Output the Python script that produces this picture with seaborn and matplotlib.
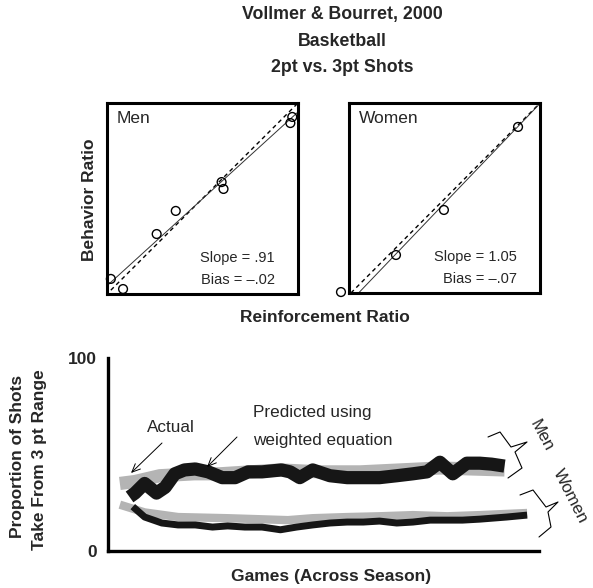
import matplotlib
matplotlib.use("Agg")
import matplotlib.pyplot as plt
import seaborn as sns
from matplotlib.lines import Line2D
from matplotlib import font_manager

W, H = 593, 588

# top panels (ratios scaled to the panel box, 0-1)
men_reinf = [0.02, 0.084, 0.26, 0.36, 0.60, 0.61, 0.97, 0.96]
men_behav = [0.079, 0.026, 0.314, 0.435, 0.586, 0.55, 0.927, 0.895]
men_fit_x = [0.0, 1.0]
men_fit_y = [0.043, 0.953]
men_unity_x = [0.02, 1.0]
men_unity_y = [0.02, 1.0]

women_reinf = [-0.042, 0.246, 0.497, 0.885]
women_behav = [0.005, 0.20, 0.437, 0.874]
women_fit_x = [0.05, 1.0]
women_fit_y = [0.0, 0.9975]
women_unity_x = [0.01, 1.0]
women_unity_y = [0.0, 1.0]

# bottom panel: proportion of shots from 3 pt range across the season
men_pred_games = [1.1, 2.5, 4.8, 8.0, 10.4, 16.0, 19.7, 23.4, 27.1, 30.8, 36.8]
men_pred = [35, 36, 39, 40, 40, 42, 41, 41, 42, 43, 42]
men_act_games = [2.0, 2.5, 3.4, 4.5, 5.3, 6.2, 7.1, 8.1, 9.3, 10.6, 11.8, 13.0, 14.3, 16.1, 16.9,
                 17.8, 19.0, 20.6, 22.2, 23.7, 25.2, 26.8, 28.3, 29.6, 30.8, 32.0, 33.3, 34.5,
                 35.6, 36.8]
men_act = [28, 30, 35, 30, 33, 40, 42, 42.5, 41, 38, 38, 41, 41, 42, 41, 38, 42, 39, 38, 38, 38,
           39, 40, 41, 46, 40, 45.5, 45.5, 45, 44]
women_pred_games = [1.1, 3.4, 6.5, 11.1, 16.7, 19.0, 22.2, 25.2, 28.3, 31.5, 34.5, 38.9]
women_pred = [24, 20, 17.6, 17, 16, 17, 17.6, 18, 18.6, 18, 18.6, 19.7]
women_act_games = [2.3, 3.4, 5.0, 6.5, 8.1, 9.7, 11.1, 12.7, 14.3, 16.0, 17.5, 19.0, 20.6, 22.2,
                   23.7, 25.2, 26.8, 28.3, 29.9, 31.5, 32.9, 34.5, 37.0, 38.9]
women_act = [23, 17.6, 14.5, 13.5, 13.5, 12.4, 13, 12.4, 12.4, 11, 12.4, 13.5, 14.5, 15, 15, 15.5,
             14.5, 15, 16, 16, 16, 16.5, 17.6, 18.6]

GRAY = "#b4b4b4"
DARK = "#161616"

sns.set_theme(style="white")
plt.rcParams["font.family"] = ["Liberation Sans", "DejaVu Sans"]

# a condensed face for the slope/bias notes, if there is one
names = {f.name for f in font_manager.fontManager.ttflist}
if "Liberation Sans Narrow" in names:
    NOTE_FONT, NOTE_SIZE = ["Liberation Sans Narrow", "DejaVu Sans"], 12
else:
    NOTE_FONT, NOTE_SIZE = ["Liberation Sans", "DejaVu Sans"], 10.5


def rect(l, t, r, b):
    return [l / W, 1 - b / H, (r - l) / W, (b - t) / H]


def fxy(x, y):
    return (x / W, 1 - y / H)


fig = plt.figure(figsize=(W / 100, H / 100), dpi=100)

# title
for txt, y in [("Vollmer & Bourret, 2000", 15), ("Basketball", 42), ("2pt vs. 3pt Shots", 68)]:
    fig.text(*fxy(342, y), txt, ha="center", va="center", fontsize=12.8, fontweight="bold")

panels = [
    ("Men", rect(107, 103, 298, 294), men_reinf, men_behav, men_fit_x, men_fit_y,
     men_unity_x, men_unity_y, "Slope = .91", "Bias = \u2013.02"),
    ("Women", rect(349, 103, 540, 293), women_reinf, women_behav, women_fit_x, women_fit_y,
     women_unity_x, women_unity_y, "Slope = 1.05", "Bias = \u2013.07"),
]
for name, r, rx, by, fx, fy, ux, uy, slope, bias in panels:
    ax = fig.add_axes(r)
    sns.lineplot(x=ux, y=uy, ax=ax, color="black", linewidth=1.0,
                 linestyle=(0, (3, 2.5)), sort=False, estimator=None)
    sns.lineplot(x=fx, y=fy, ax=ax, color="#333333", linewidth=0.7, sort=False, estimator=None)
    sns.scatterplot(x=rx, y=by, ax=ax, s=40, facecolors="none", edgecolor="black",
                    linewidth=1.0, clip_on=False, zorder=5)
    ax.set_xlim(0, 1)
    ax.set_ylim(0, 1)
    ax.set_xticks([])
    ax.set_yticks([])
    for sp in ax.spines.values():
        sp.set_visible(True)
        sp.set_color("black")
        sp.set_linewidth(2.2)
    ax.text(0.05, 0.92, name, transform=ax.transAxes, fontsize=12.5, ha="left", va="center")
    ax.text(0.88, 0.19, slope, transform=ax.transAxes, fontsize=NOTE_SIZE, family=NOTE_FONT,
            ha="right", va="center")
    ax.text(0.88, 0.075, bias, transform=ax.transAxes, fontsize=NOTE_SIZE, family=NOTE_FONT,
            ha="right", va="center")

fig.text(*fxy(90, 200), "Behavior Ratio", rotation=90, ha="center", va="center",
         fontsize=12.5, fontweight="bold")
fig.text(*fxy(325, 318), "Reinforcement Ratio", ha="center", va="center",
         fontsize=12.5, fontweight="bold")

# bottom panel
ax2 = fig.add_axes(rect(108, 358, 539, 551))
sns.lineplot(x=men_pred_games, y=men_pred, ax=ax2, color=GRAY, linewidth=9.5, sort=False,
             estimator=None, solid_capstyle="butt", solid_joinstyle="round")
sns.lineplot(x=women_pred_games, y=women_pred, ax=ax2, color=GRAY, linewidth=6, sort=False,
             estimator=None, solid_capstyle="butt", solid_joinstyle="round")
sns.lineplot(x=men_act_games, y=men_act, ax=ax2, color=DARK, linewidth=9.5, sort=False,
             estimator=None, solid_capstyle="butt", solid_joinstyle="round")
sns.lineplot(x=women_act_games, y=women_act, ax=ax2, color=DARK, linewidth=5, sort=False,
             estimator=None, solid_capstyle="butt", solid_joinstyle="round")
ax2.set_xlim(0, 40)
ax2.set_ylim(0, 100)
ax2.set_xticks([])
ax2.set_yticks([0, 100])
ax2.set_yticklabels(["0", "100"], fontsize=12.5, fontweight="bold")
ax2.tick_params(axis="y", length=0, pad=8)
sns.despine(ax=ax2)
for side in ["left", "bottom"]:
    ax2.spines[side].set_color("black")
    ax2.spines[side].set_linewidth(2.4)
ax2.set_xlabel("")
ax2.set_ylabel("")

fig.text(*fxy(18, 456), "Proportion of Shots", rotation=90, ha="center", va="center",
         fontsize=12.5, fontweight="bold")
fig.text(*fxy(40, 460), "Take From 3 pt Range", rotation=90, ha="center", va="center",
         fontsize=12.5, fontweight="bold")
fig.text(*fxy(331, 577), "Games (Across Season)", ha="center", va="center",
         fontsize=12.5, fontweight="bold")

# annotations
arrow = dict(arrowstyle="->,head_length=0.5,head_width=0.22", color="black", lw=0.7,
             shrinkA=0, shrinkB=0)
ax2.annotate("", xy=fxy(131, 473), xycoords="figure fraction", xytext=fxy(162, 443),
             textcoords="figure fraction", arrowprops=arrow)
ax2.annotate("", xy=fxy(207, 467), xycoords="figure fraction", xytext=fxy(237, 437),
             textcoords="figure fraction", arrowprops=arrow)
fig.text(*fxy(171, 428), "Actual", ha="center", va="center", fontsize=12.3)
fig.text(*fxy(253, 412), "Predicted using", ha="left", va="center", fontsize=12.3)
fig.text(*fxy(253, 440), "weighted equation", ha="left", va="center", fontsize=12.3)

# braces
braces = [
    [(488, 437), (500, 432), (511, 447), (527, 442), (515, 452), (522, 468), (508, 478)],
    [(520, 495), (533, 490), (546, 507), (558, 502), (548, 512), (551, 527), (539, 537)],
]
for pts in braces:
    xs = [p[0] / W for p in pts]
    ys = [1 - p[1] / H for p in pts]
    fig.add_artist(Line2D(xs, ys, transform=fig.transFigure, color="black", lw=0.8))
fig.text(*fxy(541, 436), "Men", rotation=-62, ha="center", va="center", fontsize=12.3,
         rotation_mode="anchor")
fig.text(*fxy(570, 496), "Women", rotation=-63, ha="center", va="center", fontsize=12.3,
         rotation_mode="anchor")

fig.savefig("out.png", dpi=100, facecolor="white")
